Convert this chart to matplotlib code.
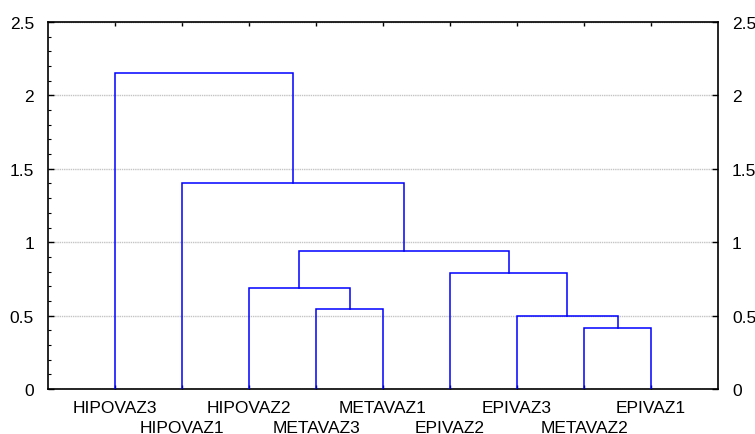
import matplotlib
matplotlib.use("Agg")
import matplotlib.pyplot as plt
from matplotlib.ticker import MultipleLocator

plt.rcParams['font.family'] = ['Liberation Sans', 'DejaVu Sans']

# Leaf labels in dendrogram order
labels = ["HIPOVAZ3", "HIPOVAZ1", "HIPOVAZ2", "METAVAZ3", "METAVAZ1",
          "EPIVAZ2", "EPIVAZ3", "METAVAZ2", "EPIVAZ1"]
# Merges: (left node, right node, height); leaves are 0..8, new clusters 9..
merge_left = [7, 3, 6, 2, 5, 12, 1, 0]
merge_right = [8, 4, 9, 10, 11, 13, 14, 15]
merge_height = [0.415, 0.545, 0.495, 0.686, 0.79, 0.94, 1.40, 2.15]

yticks = [0, 0.5, 1, 1.5, 2, 2.5]
ytick_labels = ["0", "0.5", "1", "1.5", "2", "2.5"]

fig = plt.figure(figsize=(7.55, 4.35), dpi=100)
ax = fig.add_axes([48/755, 1-390/435, (718-48)/755, (390-23)/435])

n = len(labels)
xpos = {i: i + 1 for i in range(n)}
ypos = {i: 0.0 for i in range(n)}
color = (0, 0, 1)
for k, (a, b, h) in enumerate(zip(merge_left, merge_right, merge_height)):
    xa, xb = xpos[a], xpos[b]
    ax.plot([xa, xa, xb, xb], [ypos[a], h, h, ypos[b]], color=color, lw=1.1,
            solid_joinstyle='miter', zorder=3)
    node = n + k
    xpos[node] = (xa + xb) / 2
    ypos[node] = h

ax.set_xlim(0, n + 1)
ax.set_ylim(0, 2.5)
ax.set_yticks(yticks)
ax.set_yticklabels(ytick_labels)
ax.yaxis.set_minor_locator(MultipleLocator(0.1))
ax.set_xticks([i + 1 for i in range(n)])
ax.set_xticklabels([])
ax.grid(axis='y', which='major', color='#c4c4c4', linestyle=(0, (1, 0.6)), lw=1.0, zorder=0)

ax.tick_params(axis='y', which='major', direction='in', length=4, width=1,
               left=True, right=True, labelleft=True, labelright=True,
               labelsize=12.5, pad=10)
ax.tick_params(axis='y', which='minor', direction='in', length=2.5, width=0.8,
               left=True, right=False)
ax.tick_params(axis='x', which='major', direction='in', length=3, width=1,
               top=True, bottom=True)

for sp in ax.spines.values():
    sp.set_linewidth(1.2)

trans = ax.get_xaxis_transform()
for i, lab in enumerate(labels):
    dy = -0.063 if i % 2 == 0 else -0.118
    ax.text(i + 1, dy, lab, transform=trans, ha='center', va='baseline', fontsize=12.5)

fig.savefig("out.png", dpi=100)
